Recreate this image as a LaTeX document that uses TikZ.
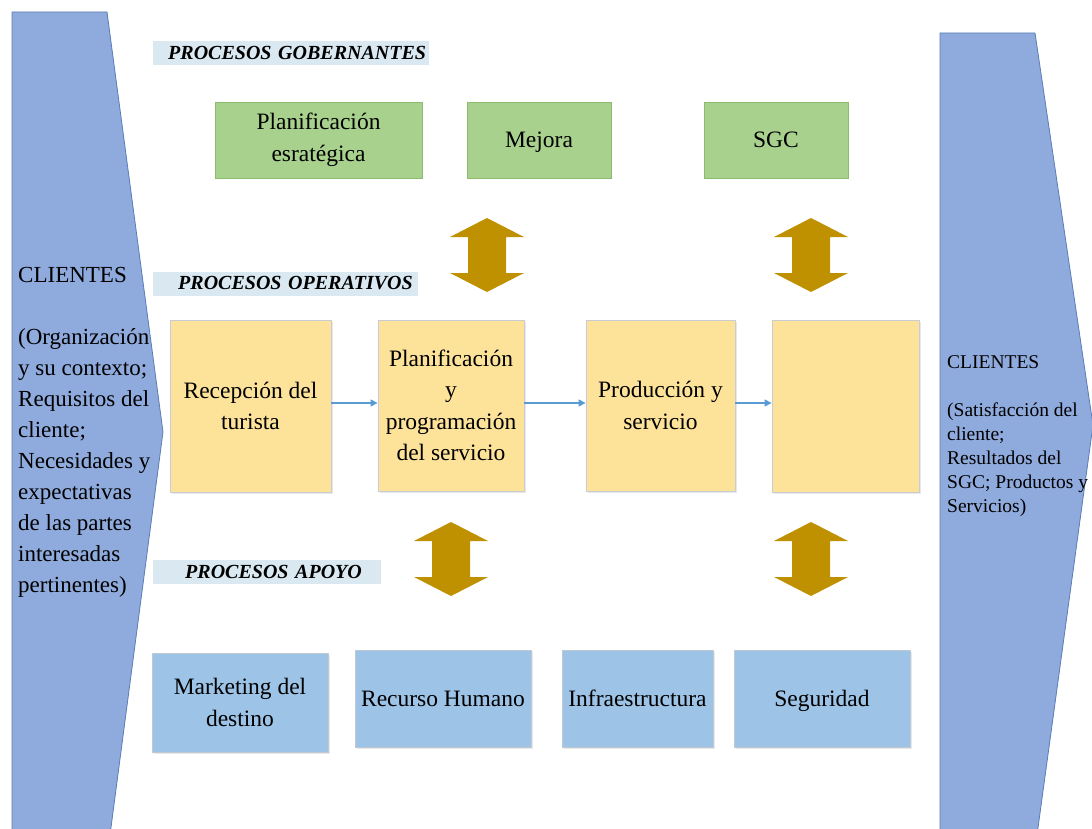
\documentclass[tikz,border=0pt]{standalone}
\usepackage{fontspec}
\setmainfont{Liberation Serif}
\usetikzlibrary{arrows.meta,shadows}
\definecolor{clientfill}{HTML}{8FAADC}
\definecolor{clientdraw}{HTML}{5A7DB5}
\definecolor{govfill}{HTML}{A9D18E}
\definecolor{govdraw}{HTML}{8CBB6E}
\definecolor{opfill}{HTML}{FDE29A}
\definecolor{opdraw}{HTML}{C9CDD3}
\definecolor{supfill}{HTML}{9DC3E6}
\definecolor{supdraw}{HTML}{BFC9D3}
\definecolor{gold}{HTML}{BF9000}
\definecolor{band}{HTML}{DAE9F1}
\definecolor{flow}{HTML}{5B9BD5}
\tikzset{
  box/.style={rectangle, inner sep=0pt, align=center, line width=0.8pt,
    font=\fontsize{23.5}{31.5}\selectfont},
  oneline/.style={text height=18pt, text depth=2pt},
  govbox/.style={box, fill=govfill, draw=govdraw},
  opbox/.style={box, fill=opfill, draw=opdraw,
    drop shadow={opacity=0.18, shadow xshift=1.5pt, shadow yshift=-2pt}},
  supbox/.style={box, fill=supfill, draw=supdraw,
    drop shadow={opacity=0.18, shadow xshift=1.5pt, shadow yshift=-2pt}},
  bandlabel/.style={anchor=west, fill=band, minimum height=24pt, inner sep=0pt,
    align=left, font=\fontsize{20}{24}\selectfont\bfseries\itshape},
  flowline/.style={draw=flow, line width=1.2pt, -{Triangle[width=7pt,length=7pt]}},
  updown/.pic={
    \fill[gold] (0,-37) -- (37,-18) -- (19,-18) -- (19,18) -- (37,18) -- (0,37)
      -- (-37,18) -- (-19,18) -- (-19,-18) -- (-37,-18) -- cycle;
  }
}
\begin{document}
\begin{tikzpicture}[x=1pt, y=-1pt]
\useasboundingbox (0,0) rectangle (1092,829);

% client arrows at both sides
\filldraw[fill=clientfill, draw=clientdraw, line width=0.8pt]
  (12,835) -- (12,12) -- (107,12) -- (163,432) -- (110,835);
\filldraw[fill=clientfill, draw=clientdraw, line width=0.8pt]
  (940,835) -- (940,33) -- (1035,33) -- (1093,425) -- (1037,835);

\node[anchor=north west, inner sep=0pt, align=left,
      font=\fontsize{23}{31}\selectfont] (cin) at (18,267)
  {CLIENTES\\[31pt](Organización\\y su contexto;\\Requisitos del\\cliente;\\Necesidades y\\expectativas\\de las partes\\interesadas\\pertinentes)};
\node[anchor=north west, inner sep=0pt, align=left,
      font=\fontsize{19.5}{24}\selectfont] (cout) at (947,355)
  {CLIENTES\\[24pt](Satisfacción del\\cliente;\\Resultados del\\SGC; Productos y\\Servicios)};

% section labels on light bands
\node[bandlabel, text width=276pt] (lgov) at (153,53) {\hspace*{15pt}PROCESOS GOBERNANTES};
\node[bandlabel, text width=265pt] (lop) at (153,283.5) {\hspace*{25pt}PROCESOS OPERATIVOS};
\node[bandlabel, text width=228pt] (lsup) at (153,572) {\hspace*{32pt}PROCESOS APOYO};

% governing processes
\node[govbox, minimum width=207pt, minimum height=76pt] (g1) at (318.5,140) {Planificación\\esratégica};
\node[govbox, oneline, minimum width=144pt, minimum height=76pt] (g2) at (539,140) {Mejora};
\node[govbox, oneline, minimum width=144pt, minimum height=76pt] (g3) at (776,140) {SGC};

% operating processes
\node[opbox, minimum width=161pt, minimum height=172pt] (o1) at (250.5,406) {Recepción del\\turista};
\node[opbox, minimum width=146pt, minimum height=171pt] (o2) at (451,405.5) {Planificación\\y\\programación\\del servicio};
\node[opbox, minimum width=149pt, minimum height=171pt] (o3) at (660.5,405.5) {Producción y\\servicio};
\node[opbox, minimum width=147pt, minimum height=172pt] (o4) at (845.5,406) {};

\draw[flowline] (o1.east |- 0,403) -- (o2.west |- 0,403);
\draw[flowline] (o2.east |- 0,403) -- (o3.west |- 0,403);
\draw[flowline] (o3.east |- 0,403) -- (o4.west |- 0,403);

% support processes
\node[supbox, minimum width=176pt, minimum height=99pt] (s1) at (240,702.5) {Marketing del\\destino};
\node[supbox, oneline, minimum width=176pt, minimum height=97pt] (s2) at (443,698.5) {Recurso Humano};
\node[supbox, oneline, minimum width=151pt, minimum height=97pt] (s3) at (637.5,698.5) {Infraestructura};
\node[supbox, oneline, minimum width=176pt, minimum height=97pt] (s4) at (822,698.5) {Seguridad};

% two-way links between levels
\pic at (487,255) {updown};
\pic at (811,255) {updown};
\pic at (451,559) {updown};
\pic at (811,559) {updown};
\end{tikzpicture}
\end{document}
